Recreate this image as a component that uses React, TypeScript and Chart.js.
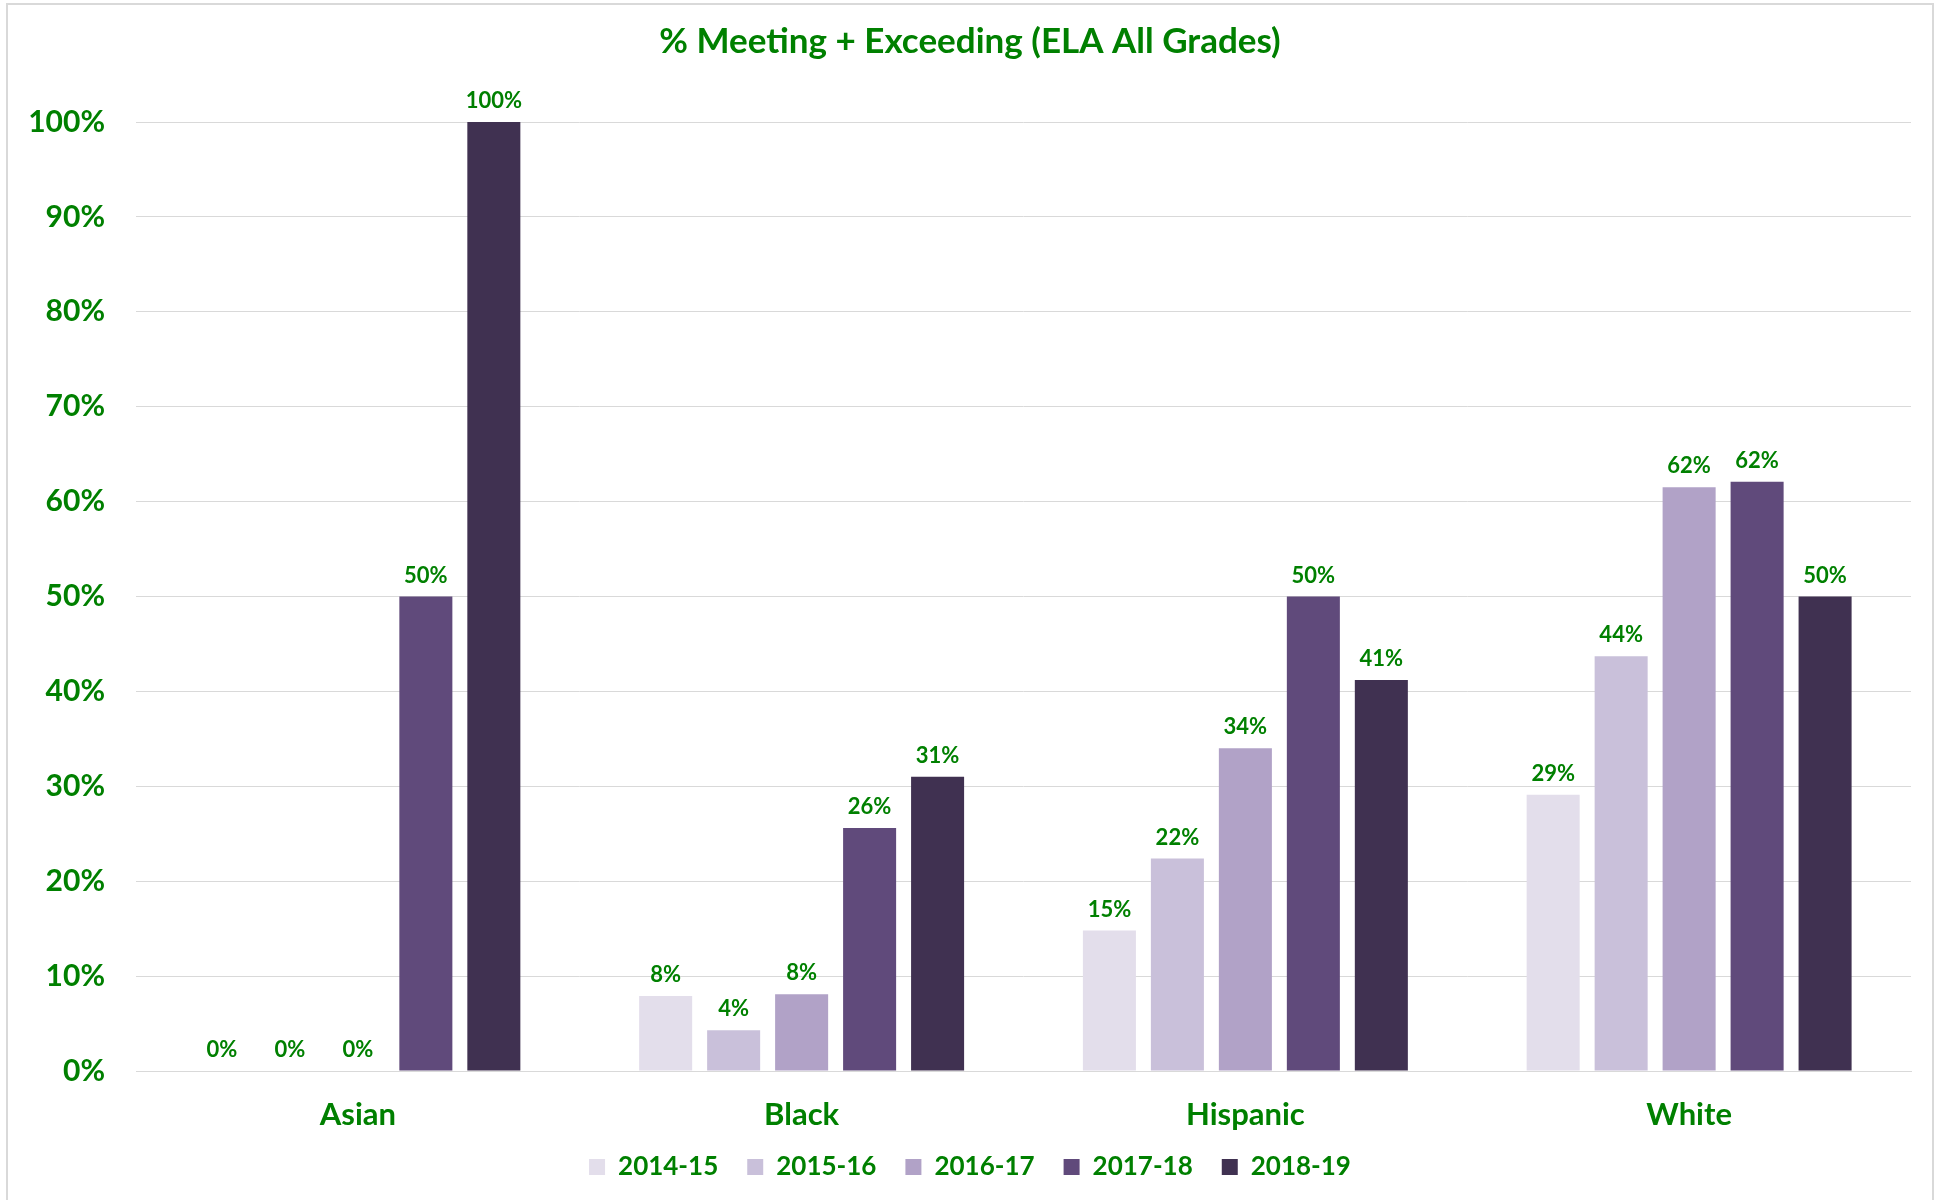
import React, { useEffect, useRef } from "react";
import { Chart, registerables } from "chart.js";

Chart.register(...registerables);

const categories = ["Asian", "Black", "Hispanic", "White"];
const seriesLabels = ["2014-15", "2015-16", "2016-17", "2017-18", "2018-19"];
const s2014 = [0, 7.9, 14.8, 29.1];
const s2015 = [0, 4.3, 22.4, 43.7];
const s2016 = [0, 8.1, 34.0, 61.5];
const s2017 = [50, 25.6, 50, 62.1];
const s2018 = [100, 31.0, 41.2, 50];
const seriesColors = ["#E3DEEB", "#C9C0DA", "#B1A2C7", "#604A7B", "#403151"];
const yTicks = [0, 10, 20, 30, 40, 50, 60, 70, 80, 90, 100];

const GREEN = "#008000";
const FONT = "Lato, 'Open Sans', sans-serif";

const dataLabelPlugin = {
  id: "dataLabels",
  afterDatasetsDraw(chart: any) {
    const ctx = chart.ctx;
    ctx.save();
    ctx.fillStyle = GREEN;
    ctx.font = `bold 22px ${FONT}`;
    ctx.textAlign = "center";
    ctx.textBaseline = "bottom";
    chart.data.datasets.forEach((ds: any, i: number) => {
      const meta = chart.getDatasetMeta(i);
      meta.data.forEach((bar: any, j: number) => {
        const v = ds.data[j];
        ctx.fillText(Math.round(v) + "%", bar.x, bar.y - 10);
      });
    });
    ctx.restore();
  },
};

export default function App() {
  const ref = useRef<HTMLCanvasElement>(null);
  useEffect(() => {
    if (!ref.current) return;
    const all = [s2014, s2015, s2016, s2017, s2018];
    const chart = new Chart(ref.current, {
      type: "bar",
      data: {
        labels: categories,
        datasets: all.map((d, i) => ({
          label: seriesLabels[i],
          data: d,
          backgroundColor: seriesColors[i],
          borderWidth: 0,
          categoryPercentage: 0.766,
          barPercentage: 0.78,
        })),
      },
      options: {
        animation: false,
        responsive: false,
        maintainAspectRatio: false,
        layout: { padding: { left: 0, right: 0, top: 0, bottom: 10 } },
        plugins: {
          title: {
            display: true,
            text: "% Meeting + Exceeding (ELA All Grades)",
            color: GREEN,
            font: { family: FONT, size: 35, weight: "bold" },
            padding: { top: 21, bottom: 59 },
          },
          legend: {
            position: "bottom",
            labels: {
              color: GREEN,
              font: { family: FONT, size: 26, weight: "bold" },
              boxWidth: 16,
              boxHeight: 16,
              padding: 29,
            },
          },
          tooltip: { enabled: false },
        },
        scales: {
          x: {
            grid: { display: false, drawTicks: false },
            border: { display: true, color: "#d9d9d9", width: 1 },
            ticks: {
              color: GREEN,
              font: { family: FONT, size: 31, weight: "bold" },
              padding: 25,
            },
            afterFit(scale: any) {
              scale.height = 54;
              scale._computeLabelArea = () => undefined;
            },
          },
          y: {
            min: 0,
            max: 100,
            afterBuildTicks(scale: any) {
              scale.ticks = yTicks.map((v) => ({ value: v }));
            },
            grid: { color: "#d9d9d9", lineWidth: 1, drawTicks: false },
            border: { display: false },
            ticks: {
              color: GREEN,
              font: { family: FONT, size: 30, weight: "bold" },
              padding: 31,
              callback: (v: any) => v + "%",
            },
            afterFit(scale: any) {
              scale.width = 136;
            },
          },
          yRight: {
            position: "right",
            display: true,
            grid: { display: false, drawTicks: false },
            border: { display: false },
            ticks: { display: false },
            afterFit(scale: any) {
              scale.width = 29;
            },
          },
        },
      },
      plugins: [dataLabelPlugin],
    });
    return () => chart.destroy();
  }, []);
  return (
    <div style={{ position: "absolute", left: 0, top: 0, width: 1940, height: 1200, background: "#fff", overflow: "hidden" }}>
      <canvas ref={ref} width={1940} height={1200} style={{ position: "absolute", left: 0, top: 0 }} />
      <div
        style={{
          position: "absolute",
          left: 6,
          top: 3,
          width: 1928,
          height: 1210,
          border: "2px solid #d9d9d9",
          boxSizing: "border-box",
          pointerEvents: "none",
        }}
      />
    </div>
  );
}
